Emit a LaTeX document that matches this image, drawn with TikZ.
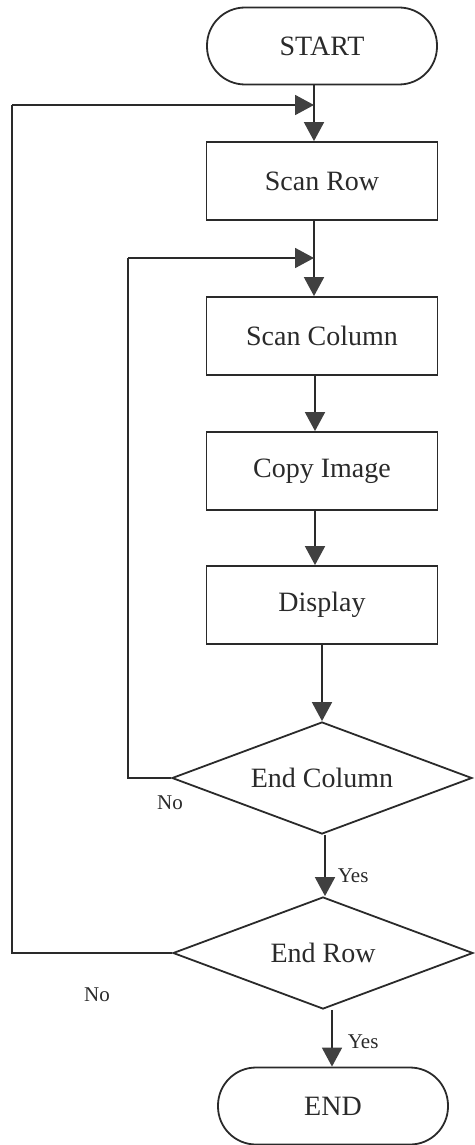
\documentclass[tikz,border=0pt]{standalone}
\usepackage{fontspec}
\setmainfont{Liberation Serif}
\usetikzlibrary{arrows.meta,shapes.geometric}
\definecolor{ink}{HTML}{2A2A2A}
\definecolor{headfill}{HTML}{404040}
\begin{document}
\begin{tikzpicture}[x=1pt,y=-1pt,
  line width=1.8pt, draw=ink, text=ink,
  flow/.style={draw=ink, line width=1.8pt,
    -{Triangle[width=20pt,length=19pt,fill=headfill,color=headfill]}},
  wire/.style={draw=ink, line width=1.8pt},
  term/.style={draw=ink, rectangle, rounded corners=38pt,
    minimum width=230pt, minimum height=77pt, inner sep=0pt,
    text depth=-6pt, font=\fontsize{28}{30}\selectfont},
  procbox/.style={draw=ink, rectangle, minimum width=231pt,
    minimum height=78pt, inner sep=0pt, font=\fontsize{28}{30}\selectfont},
  decide/.style={draw=ink, diamond, aspect=2.68, minimum width=300pt,
    minimum height=112pt, inner sep=0pt, font=\fontsize{28}{30}\selectfont},
  tag/.style={font=\fontsize{21}{24}\selectfont, inner sep=0pt}]

\useasboundingbox (0,0) rectangle (474,1145);

% nodes
\node[term]    (start) at (322,46)   {START};
\node[procbox] (row)   at (322,181)  {Scan Row};
\node[procbox] (col)   at (322,336)  {Scan Column};
\node[procbox] (copy)  at (322,471)  {Copy Image};
\node[procbox] (disp)  at (322,605)  {Display};
\node[decide]  (endc)  at (322,778)  {End Column};
\node[decide]  (endr)  at (323,953)  {End Row};
\node[term]    (fin)   at (333,1106) {END};

% junctions where the loops rejoin the main line
\coordinate (j1) at (314,105);
\coordinate (j2) at (314,258);
\coordinate (o1) at (12,953);
\coordinate (o2) at (12,105);
\coordinate (i1) at (128,778);
\coordinate (i2) at (128,258);

% main flow
\draw[flow] ([xshift=-8pt]start.south) -- ([xshift=-8pt]row.north);
\draw[flow] ([xshift=-8pt]row.south) -- ([xshift=-8pt]col.north);
\draw[flow] ([xshift=-7pt]col.south) -- ([xshift=-7pt]copy.north);
\draw[flow] ([xshift=-7pt]copy.south) -- ([xshift=-7pt]disp.north);
\draw[flow] (disp.south) -- (endc.north);
\draw[flow] ([xshift=3pt]endc.south) -- ([xshift=2pt]endr.north);
\draw[flow] ([xshift=9pt]endr.south) -- ([xshift=-1pt]fin.north);

% loops back
\draw[wire] (endc.west) -- (i1) -- (i2);
\draw[flow] (i2) -- (j2);
\draw[wire] (endr.west) -- (o1) -- (o2);
\draw[flow] (o2) -- (j1);

% branch labels
\node[tag] (no1)  at (170,803) {No};
\node[tag, anchor=west] (yes1) at (337,876) {Yes};
\node[tag] (no2)  at (97,995)  {No};
\node[tag, anchor=west] (yes2) at (347,1042) {Yes};
\end{tikzpicture}
\end{document}
